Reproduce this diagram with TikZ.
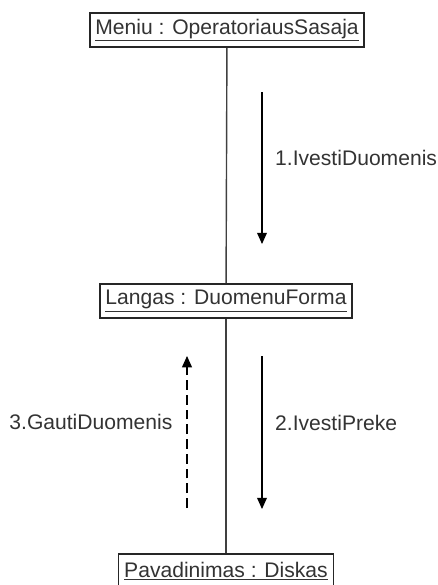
\documentclass[tikz,border=0pt]{standalone}
\usepackage{fontspec}
\setmainfont{Liberation Sans}
\usetikzlibrary{arrows.meta}

\begin{document}
\begin{tikzpicture}[x=0.025cm,y=-0.025cm,
		obj/.style={draw=black!85, line width=1.3pt, fill=white, inner xsep=4pt, minimum height=0.85cm, text=black!80, font=\fontsize{15}{18}\selectfont},
		msg/.style={line width=0.8pt, -{Triangle[width=7pt,length=8pt]}},
		lbl/.style={text=black!80, font=\fontsize{15}{18}\selectfont, inner sep=0pt, yshift=0.25cm}]
				\useasboundingbox (0,0) rectangle (438,585);
				\begin{scope}
				\clip (0,0) rectangle (438,585);
				% objects
				\node[obj] (menu) at (227,30) {\underline{Meniu : OperatoriausSasaja}};
				\node[obj] (langas) at (226,301) {\underline{Langas : DuomenuForma}};
				\node[obj] (diskas) at (226,571) {\underline{Pavadinimas : Diskas}};
				% links
				\draw[black!75, line width=1pt] (menu) -- (langas);
				\draw[black!75, line width=1pt] (langas) -- (diskas);
				\end{scope}
				% messages
				\coordinate (m1a) at (262,92);   \coordinate (m1b) at (262,244);
				\coordinate (m2a) at (262,356);  \coordinate (m2b) at (262,509);
				\coordinate (m3a) at (187,508);  \coordinate (m3b) at (187,356);
				\draw[msg] (m1a) -- node[lbl, right=9pt] {1.IvestiDuomenis} (m1b);
				\draw[msg] (m2a) -- node[lbl, right=9pt] {2.IvestiPreke} (m2b);
				\draw[msg, dash pattern=on 7pt off 3.5pt] (m3a) -- node[lbl, left=10pt] {3.GautiDuomenis} (m3b);
			\end{tikzpicture}
\end{document}
